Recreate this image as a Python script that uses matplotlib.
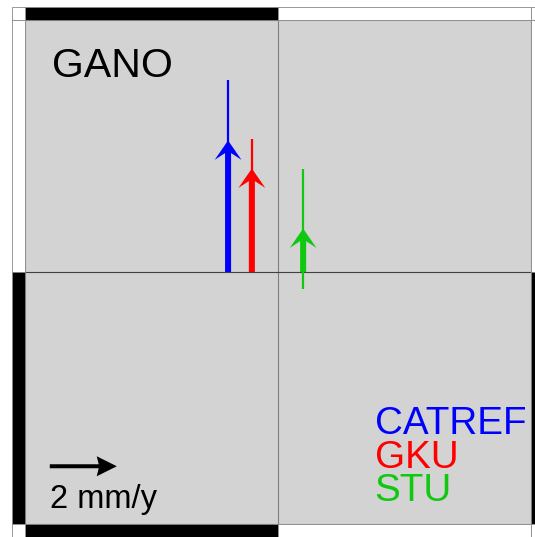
import matplotlib
matplotlib.use('Agg')
import matplotlib.pyplot as plt
from matplotlib.patches import Rectangle

plt.rcParams['font.family'] = ['Liberation Sans', 'DejaVu Sans']

# velocities (mm/y) for station GANO, one per solution
names = ['CATREF', 'GKU', 'STU']
colors = ['#0000ff', '#ff0000', '#10c810']
x_offset = [-1.49, -0.78, 0.75]      # arrows shifted sideways so they don't overlap
v_north = [3.94, 3.10, 1.30]
sig_north = [1.80, 0.87, 1.80]
scale_len = 2.0
lim = 7.55

W, H = 535, 537
fig = plt.figure(figsize=(W / 100, H / 100), dpi=100)
ax = fig.add_axes([25 / W, 13 / H, 506 / W, 504 / H])
ax.set_facecolor('#d3d3d3')
ax.set_xlim(-lim, lim)
ax.set_ylim(-lim, lim)
ax.set_xticks([])
ax.set_yticks([])
for s in ax.spines.values():
    s.set_color('#888888')
    s.set_linewidth(0.8)

ax.axvline(0, color='#808080', lw=0.8)
ax.axhline(0, color='#404040', lw=0.8)

for x, vn, sn, c in zip(x_offset, v_north, sig_north, colors):
    ax.plot([x, x], [vn - sn, vn + sn], color=c, lw=1.6, solid_capstyle='butt')
    ax.arrow(x, 0, 0, vn, width=0.18, head_width=0.8, head_length=0.58,
             overhang=0.35, length_includes_head=True, color=c, lw=0)

# scale arrow
ax.arrow(-6.81, -5.82, scale_len, 0, width=0.12, head_width=0.6, head_length=0.6,
         overhang=0.1, length_includes_head=True, color='black', lw=0)
ax.text(0.049, 0.032, '2 mm/y', transform=ax.transAxes, fontsize=23.5, va='baseline')

ax.text(0.053, 0.887, 'GANO', transform=ax.transAxes, fontsize=29.5, va='baseline')
for i, (n, c) in enumerate(zip(names, colors)):
    ax.text(0.691, 0.178 - i * 0.066, n, transform=ax.transAxes, fontsize=27.8,
            color=c, va='baseline')

# checkered frame around the map
def band(x0, y0, w, h, fill):
    fig.patches.append(Rectangle((x0 / W, 1 - (y0 + h) / H), w / W, h / H,
                                 transform=fig.transFigure, facecolor=fill,
                                 edgecolor='#888888', lw=0.6))

t = 13
band(25, 7, 253, t, 'black')
band(278, 7, 253, t, 'white')
band(25, 524, 253, t, 'black')
band(278, 524, 253, t, 'white')
band(12, 20, t, 252, 'white')
band(12, 272, t, 252, 'black')
band(531, 20, t, 252, 'white')
band(531, 272, t, 252, 'black')
for cx, cy in [(12, 7), (531, 7), (12, 524), (531, 524)]:
    band(cx, cy, t, t, 'white')

fig.savefig('out.png', dpi=100)
